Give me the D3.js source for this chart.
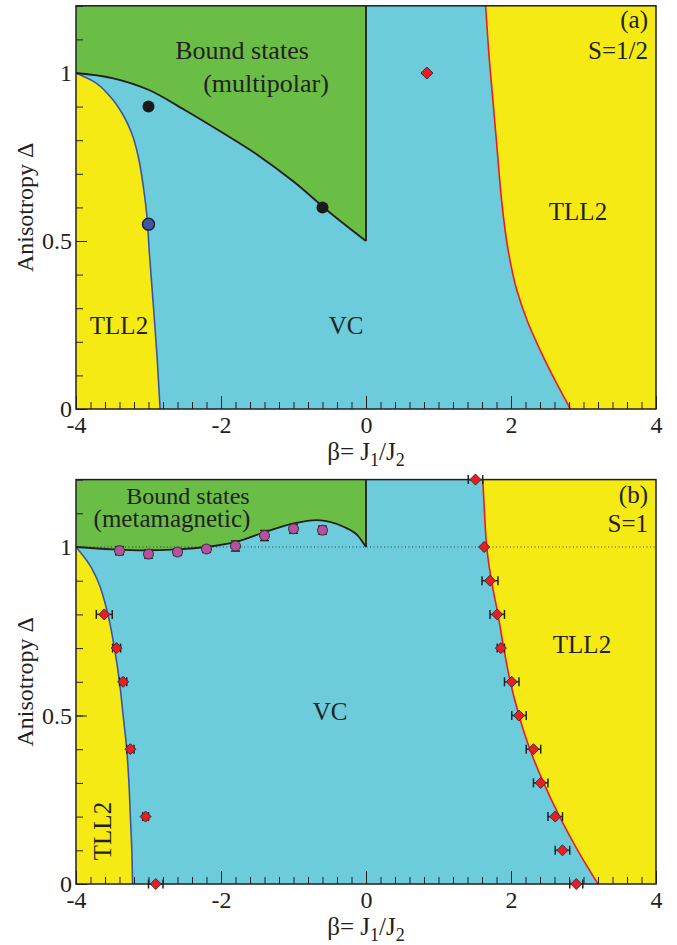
<!DOCTYPE html>
<html><head><meta charset="utf-8">
<script src="https://cdn.jsdelivr.net/npm/d3@7"></script>
<style>body{margin:0;background:#fff}svg{display:block}text{font-family:"Liberation Serif","Times New Roman",serif;fill:#231F20}</style>
</head><body>
<script>
// ---------- data (beta = J1/J2, Delta = anisotropy) ----------
const xTickLabels = [-4, -2, 0, 2, 4];
const yTickLabels = [0, 0.5, 1];
// Panel (a) S=1/2
const aBoundCurve = [[-4,1],[-3.5,0.985],[-3,0.95],[-2.5,0.89],[-2,0.825],[-1.5,0.757],[-1,0.677],[-0.5,0.585],[0,0.5]]; // [beta, Delta]
const aLeftCurve  = [[0,-2.84],[0.15,-2.88],[0.3,-2.93],[0.47,-2.99],[0.57,-3.02],[0.66,-3.07],[0.75,-3.14],[0.82,-3.23],[0.875,-3.35],[0.93,-3.53],[0.975,-3.76],[1,-4]]; // [Delta, beta]
const aRightCurve = [[0,2.82],[0.076,2.63],[0.176,2.40],[0.265,2.22],[0.354,2.08],[0.473,1.96],[0.622,1.87],[0.77,1.81],[0.92,1.75],[1.07,1.69],[1.2,1.65]]; // [Delta, beta]
const aBlackDots  = [[-3.0,0.9],[-0.6,0.6]];
const aBlueDots   = [[-3.0,0.55]];
const aRedDiamonds = [[0.84,1.0]];
// Panel (b) S=1
const bBoundCurve = [[-4,1],[-3.5,0.993],[-3.07,0.99],[-2.6,0.993],[-2.2,1.0],[-1.78,1.016],[-1.37,1.046],[-1.0,1.07],[-0.68,1.08],[-0.31,1.06],[-0.12,1.035],[0,1.0]];
const bLeftCurve  = [[0,-3.22],[0.1,-3.23],[0.2,-3.25],[0.3,-3.27],[0.4,-3.30],[0.5,-3.35],[0.6,-3.40],[0.7,-3.47],[0.8,-3.56],[0.9,-3.70],[0.95,-3.82],[1,-4]];
const bRightCurve = [[0,3.2],[0.1,2.92],[0.2,2.67],[0.3,2.45],[0.4,2.26],[0.5,2.11],[0.6,1.99],[0.7,1.90],[0.8,1.82],[0.9,1.73],[1.0,1.665],[1.1,1.635],[1.2,1.61]];
const bPurpleBeta  = [-3.4,-3.0,-2.6,-2.2,-1.8,-1.4,-1.0,-0.6];
const bPurpleDelta = [0.989,0.979,0.985,0.994,1.003,1.034,1.054,1.050];
const bPurpleErr   = [0.012,0.012,0.01,0.01,0.015,0.015,0.013,0.012];
const bLeftBeta  = [-3.61,-3.44,-3.35,-3.25,-3.04,-2.90];
const bLeftDelta = [0.8,0.7,0.6,0.4,0.2,0.0];
const bLeftErr   = [0.11,0.055,0.05,0.05,0.04,0.1];
const bRightBeta  = [1.51,1.63,1.71,1.81,1.86,2.01,2.11,2.31,2.41,2.61,2.71,2.90];
const bRightDelta = [1.2,1.0,0.9,0.8,0.7,0.6,0.5,0.4,0.3,0.2,0.1,0.0];
const bRightErr   = [0.1,0.01,0.11,0.1,0.05,0.1,0.1,0.1,0.1,0.1,0.1,0.09];

// ---------- style ----------
const C = {cyan:"#6CCCDC", green:"#6ABD45", yellow:"#F5EA14", red:"#ED1C24", blue:"#3B55A4", ink:"#231F20", purple:"#B84FA3", dotBlue:"#3D57A7"};
const W = 677, H = 945;
const svg = d3.select("body").append("svg").attr("width", W).attr("height", H);

function panel(cfg) {
  const x = d3.scaleLinear().domain([-4, 4]).range([76, 656]);
  const y = d3.scaleLinear().domain([0, 1.2]).range([cfg.bottom, cfg.top]);
  const g = svg.append("g");
  g.append("rect").attr("x", x(-4)).attr("y", y(1.2)).attr("width", x(4)-x(-4)).attr("height", y(0)-y(1.2)).attr("fill", C.cyan);
  const sortX = a => a.slice().sort((p,q)=>p[0]-q[0]);
  g.append("path").datum(sortX(cfg.bound))
    .attr("d", d3.area().curve(d3.curveMonotoneX).x(d=>x(d[0])).y0(d=>y(d[1])).y1(y(1.2)))
    .attr("fill", C.green);
  const sortY = a => a.slice().sort((p,q)=>q[0]-p[0]);
  g.append("path").datum(sortY(cfg.left))
    .attr("d", d3.area().curve(d3.curveMonotoneY).y(d=>y(d[0])).x0(x(-4)).x1(d=>x(d[1])))
    .attr("fill", C.yellow);
  g.append("path").datum(sortY(cfg.right))
    .attr("d", d3.area().curve(d3.curveMonotoneY).y(d=>y(d[0])).x0(d=>x(d[1])).x1(x(4)))
    .attr("fill", C.yellow);
  if (cfg.dotted) {
    g.append("line").attr("x1", x(-4)).attr("x2", x(4)).attr("y1", y(1)).attr("y2", y(1))
      .attr("stroke", C.ink).attr("stroke-width", 0.8).attr("stroke-dasharray", "1,2.5");
  }
  g.append("path").datum(sortY(cfg.left))
    .attr("d", d3.line().curve(d3.curveMonotoneY).y(d=>y(d[0])).x(d=>x(d[1])))
    .attr("fill", "none").attr("stroke", C.blue).attr("stroke-width", 1.6);
  g.append("path").datum(sortY(cfg.right))
    .attr("d", d3.line().curve(d3.curveMonotoneY).y(d=>y(d[0])).x(d=>x(d[1])))
    .attr("fill", "none").attr("stroke", C.red).attr("stroke-width", 1.6);
  g.append("path").datum(sortX(cfg.bound))
    .attr("d", d3.line().curve(d3.curveMonotoneX).x(d=>x(d[0])).y(d=>y(d[1])))
    .attr("fill", "none").attr("stroke", C.ink).attr("stroke-width", 1.8);
  const endD = sortX(cfg.bound)[cfg.bound.length-1][1];
  g.append("line").attr("x1", x(0)).attr("x2", x(0)).attr("y1", y(endD)).attr("y2", y(1.2))
    .attr("stroke", C.ink).attr("stroke-width", 1.8);

  const minorX = d3.range(-20, 21).map(i => i*0.2);
  const minorY = d3.range(0, 13).map(i => i*0.1);
  g.append("g").attr("transform", `translate(0,${y(0)})`)
    .call(d3.axisBottom(x).tickValues(minorX).tickSize(-7).tickFormat(""))
    .call(a => { a.select(".domain").remove(); a.selectAll("line").attr("stroke", C.ink); });
  g.append("g").attr("transform", `translate(0,${y(0)})`)
    .call(d3.axisBottom(x).tickValues(xTickLabels).tickSize(-13).tickPadding(7).tickFormat(d => d < 0 ? "-" + Math.abs(d) : String(d)))
    .call(a => { a.select(".domain").remove(); a.selectAll("line").attr("stroke", C.ink);
      a.selectAll("text").attr("font-size", 24).attr("font-family", '"Liberation Serif",serif').attr("fill", C.ink); });
  g.append("g").attr("transform", `translate(${x(-4)},0)`)
    .call(d3.axisLeft(y).tickValues(minorY).tickSize(-7).tickFormat(""))
    .call(a => { a.select(".domain").remove(); a.selectAll("line").attr("stroke", C.ink); });
  g.append("g").attr("transform", `translate(${x(-4)},0)`)
    .call(d3.axisLeft(y).tickValues(yTickLabels).tickSize(-11).tickPadding(4).tickFormat(d => String(d)))
    .call(a => { a.select(".domain").remove(); a.selectAll("line").attr("stroke", C.ink);
      a.selectAll("text").attr("font-size", 24).attr("font-family", '"Liberation Serif",serif').attr("fill", C.ink); });

  g.append("rect").attr("x", x(-4)).attr("y", y(1.2)).attr("width", x(4)-x(-4)).attr("height", y(0)-y(1.2))
    .attr("fill", "none").attr("stroke", C.ink).attr("stroke-width", 1.5);

  const xt = g.append("text").attr("x", x(0)).attr("y", y(0) + 51).attr("text-anchor", "middle").attr("font-size", 25);
  xt.append("tspan").text("β= J");
  xt.append("tspan").attr("font-size", 18).attr("dy", 6).text("1");
  xt.append("tspan").attr("dy", -6).text("/J");
  xt.append("tspan").attr("font-size", 18).attr("dy", 6).text("2");
  g.append("text").attr("transform", `translate(33,${(y(0)+y(1.2))/2}) rotate(-90)`)
    .attr("text-anchor", "middle").attr("font-size", 24).text("Anisotropy  Δ");

  return {g, x, y};
}

function diamond(r) { return `M0,${-r}L${r},0L0,${r}L${-r},0Z`; }

const A = panel({top: 5.8, bottom: 409, bound: aBoundCurve, left: aLeftCurve, right: aRightCurve, dotted: false});
A.g.selectAll(".bdot").data(aBlackDots).join("circle")
  .attr("cx", d=>A.x(d[0])).attr("cy", d=>A.y(d[1])).attr("r", 6).attr("fill", "#1a1a1a");
A.g.selectAll(".bldot").data(aBlueDots).join("circle")
  .attr("cx", d=>A.x(d[0])).attr("cy", d=>A.y(d[1])).attr("r", 6).attr("fill", C.dotBlue).attr("stroke", "#1a1a1a").attr("stroke-width", 1.3);
A.g.selectAll(".rd").data(aRedDiamonds).join("path")
  .attr("transform", d=>`translate(${A.x(d[0])},${A.y(d[1])})`).attr("d", diamond(6))
  .attr("fill", C.red).attr("stroke", "#333").attr("stroke-width", 1);
function label(G, txt, xx, yy, opt={}) {
  const t = G.append("text").attr("x", xx).attr("y", yy).attr("font-size", opt.size || 25)
    .attr("text-anchor", opt.anchor || "middle").text(txt);
  if (opt.rotate) t.attr("transform", `rotate(${opt.rotate},${xx},${yy})`);
  return t;
}
label(A.g, "Bound states", 242, 59, {size: 26});
label(A.g, "(multipolar)", 266, 92, {size: 26});
label(A.g, "(a)", 648, 28, {anchor: "end"});
label(A.g, "S=1/2", 648, 59, {anchor: "end"});
label(A.g, "TLL2", 578, 220);
label(A.g, "TLL2", 119, 334);
label(A.g, "VC", 346, 334);

const B = panel({top: 479.6, bottom: 884, bound: bBoundCurve, left: bLeftCurve, right: bRightCurve, dotted: true});
function errBarsH(G, S, xs, ys, es) {
  const idx = d3.range(xs.length);
  G.append("g").selectAll("g").data(idx).join("g").each(function(i) {
    const gg = d3.select(this), yy = S.y(ys[i]), x0 = S.x(xs[i]-es[i]), x1 = S.x(xs[i]+es[i]);
    gg.append("line").attr("x1", x0).attr("x2", x1).attr("y1", yy).attr("y2", yy);
    gg.append("line").attr("x1", x0).attr("x2", x0).attr("y1", yy-4.5).attr("y2", yy+4.5);
    gg.append("line").attr("x1", x1).attr("x2", x1).attr("y1", yy-4.5).attr("y2", yy+4.5);
  }).attr("stroke", "#222").attr("stroke-width", 1.5);
  G.append("g").selectAll("path").data(idx).join("path")
    .attr("transform", i=>`translate(${S.x(xs[i])},${S.y(ys[i])})`).attr("d", diamond(5.5))
    .attr("fill", C.red).attr("stroke", "#333").attr("stroke-width", 1);
}
function errBarsV(G, S, xs, ys, es) {
  const idx = d3.range(xs.length);
  G.append("g").selectAll("g").data(idx).join("g").each(function(i) {
    const gg = d3.select(this), xx = S.x(xs[i]), y0 = S.y(ys[i]-es[i]), y1 = S.y(ys[i]+es[i]);
    gg.append("line").attr("x1", xx).attr("x2", xx).attr("y1", y0).attr("y2", y1);
    gg.append("line").attr("x1", xx-4.5).attr("x2", xx+4.5).attr("y1", y0).attr("y2", y0);
    gg.append("line").attr("x1", xx-4.5).attr("x2", xx+4.5).attr("y1", y1).attr("y2", y1);
  }).attr("stroke", "#222").attr("stroke-width", 1.5);
  G.append("g").selectAll("circle").data(idx).join("circle")
    .attr("cx", i=>S.x(xs[i])).attr("cy", i=>S.y(ys[i])).attr("r", 5)
    .attr("fill", C.purple).attr("stroke", "#333").attr("stroke-width", 1);
}
errBarsV(B.g, B, bPurpleBeta, bPurpleDelta, bPurpleErr);
errBarsH(B.g, B, bLeftBeta, bLeftDelta, bLeftErr);
errBarsH(B.g, B, bRightBeta, bRightDelta, bRightErr);
label(B.g, "Bound states", 188, 504, {size: 24});
label(B.g, "(metamagnetic)", 172, 527, {size: 25});
label(B.g, "(b)", 648, 503, {anchor: "end"});
label(B.g, "S=1", 648, 532, {anchor: "end"});
label(B.g, "TLL2", 582, 653);
label(B.g, "VC", 330, 720);
label(B.g, "TLL2", 111, 831, {rotate: -90});
</script>
</body></html>
